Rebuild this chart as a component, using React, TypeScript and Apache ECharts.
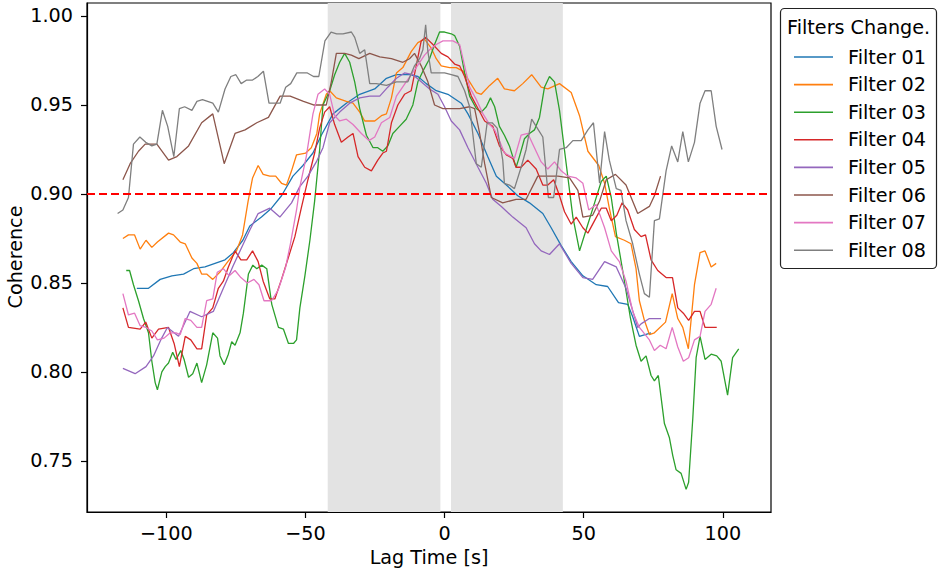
import React, { useEffect, useRef } from "react";
import * as echarts from "echarts";

const seriesNames = ["Filter 01", "Filter 02", "Filter 03", "Filter 04", "Filter 05", "Filter 06", "Filter 07", "Filter 08"];
const seriesColors = ["#1f77b4", "#ff7f0e", "#2ca02c", "#d62728", "#9467bd", "#8c564b", "#e377c2", "#7f7f7f"];
const xTicks = [-100, -50, 0, 50, 100];
const yTicks = [0.75, 0.8, 0.85, 0.9, 0.95, 1.0];
const bands = [[-42, -1.5], [2.3, 42.5]];
const threshold = 0.9;

const f01 = [[-110.6,0.847],[-106.4,0.847],[-102.2,0.852],[-98.0,0.854],[-93.8,0.855],[-90.2,0.858],[-86.1,0.859],[-82.5,0.861],[-78.9,0.863],[-75.9,0.867],[-72.5,0.874],[-70.0,0.882],[-65.8,0.887],[-62.2,0.892],[-58.6,0.899],[-54.5,0.910],[-50.9,0.916],[-47.3,0.923],[-44.3,0.933],[-40.1,0.945],[-35.3,0.951],[-30.5,0.956],[-25.1,0.959],[-20.9,0.965],[-17.3,0.967],[-12.6,0.967],[-9.6,0.966],[-6.6,0.962],[-3.0,0.958],[1.2,0.956],[6.0,0.951],[8.4,0.945],[12.0,0.934],[15.5,0.921],[18.6,0.910],[22.2,0.905],[26.3,0.899],[30.5,0.895],[35.3,0.889],[38.3,0.881],[41.9,0.871],[45.5,0.862],[49.7,0.854],[54.5,0.849],[58.6,0.848],[62.5,0.839],[65.8,0.838],[67.6,0.831],[70.0,0.820],[74.2,0.822]];

const f02 = [[-115.6,0.875],[-113.6,0.877],[-111.4,0.877],[-109.4,0.869],[-107.3,0.874],[-105.2,0.870],[-103.2,0.873],[-99.2,0.878],[-97.4,0.877],[-95.0,0.873],[-93.2,0.872],[-90.8,0.864],[-89.0,0.861],[-87.3,0.855],[-85.5,0.855],[-83.3,0.852],[-80.8,0.856],[-77.9,0.862],[-74.8,0.868],[-72.6,0.877],[-70.6,0.896],[-69.0,0.909],[-67.0,0.916],[-65.2,0.911],[-62.8,0.910],[-60.7,0.910],[-58.6,0.906],[-56.8,0.905],[-55.0,0.913],[-53.2,0.922],[-49.9,0.923],[-47.9,0.926],[-45.9,0.934],[-44.9,0.945],[-42.5,0.956],[-41.3,0.958],[-38.9,0.954],[-35.3,0.952],[-32.9,0.951],[-30.5,0.946],[-28.7,0.941],[-25.1,0.941],[-22.7,0.944],[-20.9,0.945],[-19.1,0.954],[-17.3,0.968],[-15.0,0.971],[-12.0,0.980],[-9.6,0.985],[-7.2,0.987],[-4.8,0.982],[-3.0,0.976],[-1.2,0.972],[1.8,0.971],[4.2,0.971],[6.6,0.969],[9.0,0.963],[11.4,0.957],[13.2,0.956],[16.2,0.961],[19.1,0.965],[21.5,0.959],[25.1,0.958],[28.1,0.962],[31.3,0.967],[34.7,0.960],[37.1,0.959],[41.3,0.962],[45.5,0.957],[48.5,0.944],[51.5,0.924],[55.4,0.916],[57.5,0.906],[59.2,0.892],[61.4,0.876],[64.6,0.874],[67.0,0.872],[68.8,0.858],[70.0,0.840],[71.8,0.829],[73.6,0.821],[75.4,0.822],[79.4,0.828],[81.8,0.844],[83.8,0.830],[85.6,0.825],[87.6,0.813],[89.8,0.849],[91.8,0.867],[93.6,0.868],[95.8,0.859],[97.6,0.861]];

const f03 = [[-114.4,0.857],[-113.2,0.857],[-111.8,0.849],[-110.0,0.840],[-108.2,0.830],[-106.4,0.822],[-105.2,0.806],[-104.0,0.794],[-103.2,0.790],[-101.6,0.800],[-100.4,0.803],[-99.2,0.805],[-97.7,0.811],[-96.5,0.807],[-94.8,0.812],[-93.6,0.807],[-92.0,0.797],[-90.5,0.799],[-89.0,0.805],[-87.3,0.794],[-85.5,0.804],[-83.3,0.822],[-81.6,0.819],[-80.7,0.809],[-79.2,0.804],[-77.7,0.810],[-76.5,0.817],[-75.3,0.815],[-73.5,0.822],[-72.3,0.833],[-70.5,0.855],[-68.9,0.860],[-67.5,0.858],[-65.7,0.860],[-63.9,0.858],[-62.1,0.838],[-59.7,0.825],[-57.9,0.824],[-56.1,0.816],[-54.3,0.816],[-53.2,0.818],[-52.0,0.836],[-50.2,0.854],[-48.4,0.874],[-46.7,0.896],[-44.9,0.925],[-43.7,0.950],[-41.3,0.958],[-39.5,0.967],[-37.7,0.974],[-35.9,0.979],[-34.1,0.974],[-32.3,0.963],[-30.5,0.948],[-28.1,0.933],[-25.7,0.926],[-24.0,0.926],[-22.2,0.924],[-20.4,0.927],[-18.6,0.934],[-16.2,0.938],[-13.8,0.942],[-11.4,0.950],[-9.6,0.963],[-7.8,0.969],[-5.4,0.976],[-3.6,0.984],[-1.8,0.991],[0.0,0.991],[2.4,0.990],[3.6,0.989],[5.4,0.983],[7.2,0.968],[9.0,0.955],[11.4,0.948],[13.2,0.946],[15.0,0.949],[16.5,0.954],[18.0,0.949],[19.7,0.938],[21.5,0.933],[23.3,0.927],[24.5,0.921],[25.7,0.915],[26.9,0.921],[28.7,0.931],[30.5,0.934],[32.3,0.936],[34.1,0.943],[35.9,0.960],[37.7,0.966],[39.5,0.963],[41.3,0.947],[43.7,0.917],[46.1,0.887],[48.5,0.868],[50.9,0.880],[53.9,0.895],[56.3,0.907],[58.1,0.910],[59.9,0.898],[61.7,0.878],[64.0,0.857],[66.7,0.831],[68.8,0.815],[70.6,0.806],[72.4,0.809],[74.2,0.798],[75.4,0.795],[76.8,0.798],[79.0,0.771],[80.8,0.763],[82.0,0.753],[83.2,0.745],[85.0,0.743],[86.8,0.734],[87.7,0.738],[89.2,0.774],[90.4,0.808],[91.8,0.820],[93.6,0.807],[95.8,0.810],[97.8,0.809],[99.4,0.806],[101.7,0.787],[103.5,0.808],[105.7,0.813]];

const f04 = [[-115.6,0.836],[-113.6,0.825],[-109.4,0.824],[-107.4,0.828],[-105.2,0.819],[-102.8,0.824],[-99.2,0.825],[-97.2,0.816],[-95.3,0.803],[-93.2,0.820],[-91.2,0.818],[-89.0,0.813],[-87.3,0.813],[-85.5,0.832],[-83.3,0.836],[-81.3,0.847],[-79.5,0.851],[-77.7,0.859],[-75.3,0.868],[-73.2,0.863],[-71.1,0.863],[-69.0,0.868],[-67.0,0.862],[-65.2,0.851],[-62.8,0.841],[-61.0,0.841],[-58.6,0.852],[-56.2,0.864],[-53.8,0.876],[-51.5,0.892],[-49.1,0.908],[-46.7,0.923],[-44.9,0.937],[-43.1,0.946],[-41.3,0.949],[-39.5,0.939],[-37.1,0.929],[-34.7,0.932],[-32.9,0.934],[-31.1,0.921],[-28.7,0.915],[-26.3,0.913],[-24.0,0.919],[-22.2,0.923],[-20.9,0.924],[-19.1,0.940],[-16.8,0.950],[-14.4,0.956],[-12.0,0.958],[-10.2,0.972],[-8.4,0.986],[-6.8,0.988],[-4.2,0.984],[-1.2,0.979],[1.2,0.977],[3.6,0.973],[5.4,0.972],[7.2,0.966],[9.6,0.955],[12.0,0.948],[14.4,0.941],[17.3,0.938],[19.7,0.927],[22.2,0.922],[24.5,0.920],[25.7,0.915],[27.5,0.915],[29.9,0.919],[32.9,0.914],[35.3,0.905],[37.1,0.905],[39.2,0.908],[41.3,0.899],[43.1,0.890],[45.5,0.883],[47.3,0.887],[49.7,0.881],[51.5,0.878],[53.9,0.885],[56.3,0.892],[58.1,0.892],[59.9,0.885],[61.9,0.888],[63.8,0.895],[65.8,0.891],[68.2,0.880],[70.6,0.876],[72.2,0.877],[74.2,0.863],[76.6,0.857],[79.6,0.853],[81.9,0.853],[83.8,0.836],[85.8,0.833],[87.7,0.829],[89.8,0.834],[91.8,0.834],[93.6,0.825],[95.8,0.825],[97.8,0.825]];

const f05 = [[-115.6,0.802],[-111.2,0.799],[-107.3,0.803],[-104.6,0.809],[-102.0,0.818],[-99.6,0.825],[-95.6,0.820],[-91.5,0.834],[-87.3,0.831],[-83.1,0.834],[-79.5,0.847],[-75.9,0.860],[-72.3,0.872],[-69.9,0.880],[-67.0,0.889],[-62.8,0.892],[-59.2,0.887],[-55.0,0.895],[-52.1,0.904],[-49.1,0.910],[-46.1,0.918],[-43.7,0.926],[-41.3,0.940],[-37.7,0.946],[-34.1,0.951],[-30.5,0.954],[-26.9,0.955],[-23.3,0.955],[-20.4,0.960],[-17.3,0.965],[-14.4,0.968],[-11.4,0.967],[-8.4,0.963],[-5.4,0.959],[-2.4,0.956],[0.0,0.949],[2.4,0.941],[5.4,0.936],[8.4,0.926],[12.0,0.915],[15.0,0.906],[17.3,0.897],[20.4,0.893],[24.5,0.887],[29.3,0.881],[32.3,0.872],[34.7,0.868],[37.7,0.866],[41.3,0.872],[45.5,0.861],[49.7,0.853],[53.2,0.852],[57.5,0.862],[61.7,0.859],[65.2,0.847],[69.4,0.825],[70.6,0.827],[73.6,0.830],[77.8,0.830]];

const f06 = [[-115.6,0.908],[-113.0,0.917],[-110.0,0.924],[-107.6,0.928],[-103.4,0.928],[-99.2,0.919],[-96.2,0.921],[-92.0,0.927],[-87.3,0.940],[-83.3,0.945],[-79.2,0.917],[-75.3,0.934],[-71.7,0.936],[-67.5,0.940],[-63.3,0.943],[-59.1,0.955],[-55.5,0.955],[-50.7,0.952],[-47.1,0.950],[-44.9,0.950],[-42.5,0.950],[-40.7,0.963],[-38.9,0.979],[-35.9,0.979],[-33.5,0.978],[-30.8,0.976],[-26.9,0.979],[-23.3,0.977],[-19.1,0.976],[-15.0,0.974],[-12.6,0.976],[-10.8,0.979],[-8.4,0.972],[-6.0,0.963],[-3.6,0.950],[-0.6,0.948],[3.0,0.948],[5.4,0.948],[9.0,0.949],[10.8,0.948],[12.6,0.934],[14.4,0.917],[16.8,0.898],[20.9,0.895],[25.7,0.897],[29.3,0.897],[33.5,0.910],[37.1,0.910],[40.7,0.910],[44.9,0.909],[47.9,0.902],[49.7,0.887],[53.2,0.888],[55.7,0.896],[58.1,0.908],[61.4,0.911],[65.2,0.905],[69.4,0.889],[73.6,0.893],[75.4,0.899],[77.6,0.910]];

const f07 = [[-115.6,0.844],[-113.6,0.832],[-111.4,0.833],[-109.4,0.826],[-107.3,0.825],[-105.2,0.823],[-103.2,0.818],[-100.8,0.819],[-98.6,0.822],[-96.5,0.822],[-95.0,0.821],[-93.2,0.830],[-91.2,0.829],[-89.0,0.825],[-87.3,0.825],[-85.5,0.840],[-83.3,0.841],[-81.7,0.856],[-79.5,0.858],[-77.4,0.854],[-75.3,0.857],[-73.2,0.853],[-70.9,0.850],[-68.5,0.852],[-66.7,0.849],[-64.9,0.840],[-62.2,0.840],[-59.8,0.846],[-57.1,0.859],[-55.4,0.872],[-53.2,0.891],[-52.0,0.904],[-49.7,0.921],[-47.3,0.945],[-45.5,0.956],[-43.1,0.959],[-41.3,0.956],[-39.5,0.944],[-37.7,0.941],[-35.3,0.942],[-32.9,0.939],[-29.9,0.934],[-27.2,0.930],[-25.1,0.932],[-22.7,0.940],[-19.7,0.943],[-17.3,0.955],[-13.8,0.963],[-10.2,0.971],[-7.2,0.978],[-5.4,0.981],[-3.0,0.984],[-0.6,0.986],[3.0,0.986],[5.4,0.984],[7.2,0.972],[9.0,0.960],[11.4,0.953],[13.8,0.945],[16.2,0.939],[18.0,0.936],[19.7,0.930],[21.5,0.923],[25.1,0.920],[27.5,0.933],[29.9,0.934],[32.3,0.926],[34.7,0.918],[37.1,0.914],[39.5,0.918],[41.9,0.913],[44.3,0.910],[47.3,0.909],[49.7,0.906],[51.8,0.891],[54.5,0.894],[57.5,0.881],[59.9,0.868],[62.8,0.862],[65.2,0.851],[67.6,0.834],[70.0,0.825],[73.6,0.818],[75.4,0.812],[77.5,0.815],[79.6,0.813],[81.8,0.825],[83.8,0.814],[85.8,0.806],[87.7,0.808],[89.8,0.818],[91.8,0.820],[93.6,0.834],[95.8,0.838],[97.6,0.847]];

const f08 = [[-117.5,0.889],[-115.6,0.891],[-113.6,0.898],[-111.8,0.928],[-109.5,0.932],[-107.4,0.929],[-105.2,0.927],[-103.4,0.928],[-101.4,0.947],[-99.5,0.938],[-97.3,0.921],[-95.3,0.948],[-93.4,0.949],[-90.8,0.947],[-89.0,0.952],[-87.0,0.953],[-83.3,0.951],[-81.3,0.946],[-78.9,0.959],[-76.8,0.966],[-75.0,0.967],[-73.1,0.962],[-71.1,0.964],[-69.0,0.964],[-67.1,0.966],[-65.1,0.969],[-63.1,0.951],[-60.9,0.951],[-59.1,0.951],[-57.1,0.960],[-55.3,0.962],[-53.1,0.968],[-51.3,0.968],[-49.3,0.968],[-47.1,0.966],[-45.2,0.966],[-43.0,0.986],[-40.8,0.991],[-38.8,0.990],[-36.5,0.990],[-33.5,0.991],[-32.3,0.988],[-30.5,0.979],[-28.7,0.981],[-26.9,0.962],[-24.5,0.962],[-20.9,0.961],[-17.3,0.963],[-13.2,0.963],[-10.8,0.972],[-9.0,0.976],[-7.8,0.981],[-6.8,0.995],[-6.0,0.980],[-4.8,0.968],[-2.4,0.968],[0.0,0.968],[2.4,0.967],[4.8,0.966],[7.2,0.958],[9.0,0.949],[11.4,0.917],[13.2,0.915],[15.3,0.940],[17.1,0.940],[18.9,0.937],[20.9,0.919],[21.5,0.906],[23.3,0.905],[25.1,0.903],[27.5,0.915],[29.3,0.925],[31.3,0.942],[33.3,0.937],[35.3,0.932],[37.3,0.898],[39.2,0.898],[41.3,0.925],[43.7,0.926],[46.1,0.930],[49.1,0.930],[51.5,0.936],[53.5,0.940],[55.7,0.906],[57.5,0.935],[59.2,0.919],[61.7,0.903],[63.4,0.902],[65.2,0.885],[67.6,0.872],[70.0,0.855],[71.8,0.844],[73.6,0.842],[75.4,0.885],[77.2,0.886],[79.6,0.913],[81.6,0.927],[83.8,0.918],[85.6,0.935],[87.6,0.918],[89.8,0.929],[91.8,0.951],[93.6,0.958],[95.8,0.958],[97.6,0.938],[99.7,0.925]];

const seriesData = [f01, f02, f03, f04, f05, f06, f07, f08];

const FONT = "DejaVu Sans";
const FS = 19.2;

export default function App() {
  const ref = useRef<HTMLDivElement>(null);
  useEffect(() => {
    if (!ref.current) return;
    const chart = echarts.init(ref.current, null, { renderer: "svg" });
    const fmtX = (v: number) => (v < 0 ? "\u2212" + Math.abs(v) : String(v));
    const lineSeries = seriesNames.map((name, i) => ({
      name,
      type: "line",
      data: seriesData[i],
      showSymbol: false,
      symbol: "none",
      z: 3,
      lineStyle: { width: 1.3, color: seriesColors[i] },
      itemStyle: { color: seriesColors[i] },
    }));
    const option: any = {
      animation: false,
      backgroundColor: "#fff",
      grid: { left: 87, right: 167, top: 3, bottom: 59, outerBoundsMode: "none", containLabel: false, show: true, borderColor: "#000", borderWidth: 1.2, backgroundColor: "transparent" },
      xAxis: {
        type: "value",
        min: -128.5,
        max: 117.3,
        name: "Lag Time [s]",
        nameLocation: "middle",
        nameGap: 35,
        nameTextStyle: { fontSize: FS, fontFamily: FONT, color: "#000" },
        splitLine: { show: false },
        axisLine: { show: true, onZero: false, lineStyle: { color: "#000", width: 1.2 } },
        axisTick: { show: true, length: 6, lineStyle: { color: "#000", width: 1.2 }, customValues: xTicks },
        axisLabel: { customValues: xTicks, formatter: fmtX, fontSize: FS, fontFamily: FONT, color: "#000", margin: 12 },
      },
      yAxis: {
        type: "value",
        min: 0.7213,
        max: 1.0073,
        splitLine: { show: false },
        axisLine: { show: true, onZero: false, lineStyle: { color: "#000", width: 1.2 } },
        axisTick: { show: true, length: 6, lineStyle: { color: "#000", width: 1.2 }, customValues: yTicks },
        axisLabel: { customValues: yTicks, formatter: (v: number) => v.toFixed(2), fontSize: FS, fontFamily: FONT, color: "#000", margin: 14 },
      },
      legend: {
        orient: "vertical",
        left: 789,
        top: 41,
        itemWidth: 39,
        itemHeight: 1.6,
        itemGap: 5.6,
        icon: "rect",
        selectedMode: false,
        data: seriesNames,
        textStyle: { fontSize: FS, fontFamily: FONT, color: "#000", lineHeight: 22, padding: [0, 0, 0, 10] },
      },
      graphic: [
        { type: "text", z: 5, x: 15, y: 257, rotation: Math.PI / 2, style: { text: "Coherence", fontSize: FS, fontFamily: FONT, fill: "#000", verticalAlign: "middle", align: "center" } },
        { type: "rect", z: 2, shape: { x: 780.5, y: 8.5, width: 156, height: 260, r: 4 }, style: { fill: "#fff", stroke: "#222", lineWidth: 1.2 } },
        { type: "text", z: 5, x: 787, y: 27, style: { text: "Filters Change.", fontSize: FS, fontFamily: FONT, fill: "#000", verticalAlign: "middle", align: "left" } },
      ],
      series: [
        {
          name: "bands",
          type: "line",
          data: [],
          z: 1,
          markArea: {
            silent: true,
            itemStyle: { color: "#e3e3e3" },
            data: bands.map((b) => [{ xAxis: b[0] }, { xAxis: b[1] }]),
          },
        },
        ...lineSeries,
        {
          name: "threshold",
          type: "line",
          data: [],
          z: 4,
          markLine: {
            silent: true,
            symbol: "none",
            label: { show: false },
            lineStyle: { color: "#ff0000", width: 1.8, type: [8, 4] },
            data: [{ yAxis: threshold }],
          },
        },
      ],
    };
    chart.setOption(option);
    return () => chart.dispose();
  }, []);
  return <div ref={ref} style={{ position: "fixed", left: 0, top: 0, width: 938, height: 571 }} />;
}
